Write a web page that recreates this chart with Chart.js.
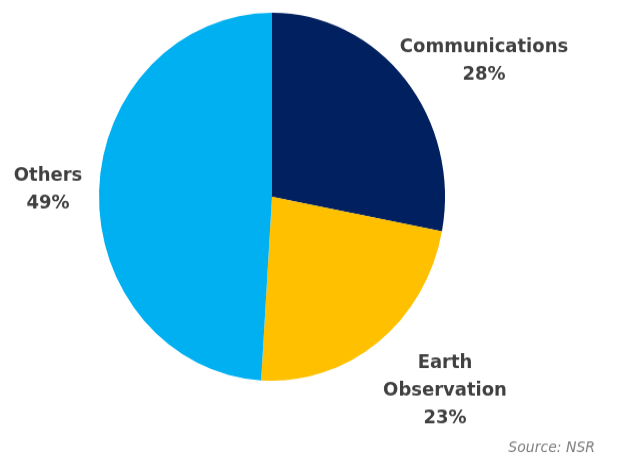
<!DOCTYPE html>
<html>
<head>
<meta charset="utf-8">
<script src="https://cdn.jsdelivr.net/npm/chart.js@4/dist/chart.umd.min.js"></script>
<style>
  html, body { margin: 0; padding: 0; background: #ffffff; }
  #wrap { position: absolute; left: 0; top: 0; width: 619px; height: 428px; transform: scaleY(1.0635); transform-origin: 0 0; }
</style>
</head>
<body>
<div id="wrap"><canvas id="c"></canvas></div>
<script>
const categories = ["Communications", "Earth Observation", "Others"];
const shares = [28, 23, 49];
const sliceColors = ["#002060", "#FFC000", "#00B0F0"];
const labelLines = [["Communications", "28%"], ["Earth", "Observation", "23%"], ["Others", "49%"]];
const sourceText = "Source: NSR";

// label anchor (x, first-line y) per slice, in canvas pixels
const labelAnchors = [[484, 44], [445, 341], [48, 165]];
const lineGap = 26;

const labelPlugin = {
  id: 'sliceLabels',
  afterDraw(chart) {
    const ctx = chart.ctx;
    ctx.save();
    ctx.fillStyle = '#404040';
    ctx.font = 'bold 18px "DejaVu Sans"';
    ctx.textAlign = 'center';
    ctx.textBaseline = 'middle';
    labelLines.forEach((lines, i) => {
      const [x, y] = labelAnchors[i];
      lines.forEach((t, j) => ctx.fillText(t, x, y + j * lineGap));
    });
    ctx.fillStyle = '#7f7f7f';
    ctx.font = 'italic 14px "DejaVu Sans"';
    ctx.textAlign = 'right';
    ctx.fillText(sourceText, 595, 421);
    ctx.restore();
  }
};

new Chart(document.getElementById('c'), {
  type: 'pie',
  data: {
    labels: categories,
    datasets: [{
      data: shares,
      backgroundColor: sliceColors,
      borderWidth: 0
    }]
  },
  options: {
    responsive: true,
    maintainAspectRatio: false,
    animation: false,
    layout: { padding: { left: 99, right: 174, top: 12, bottom: 70 } },
    plugins: {
      legend: { display: false },
      tooltip: { enabled: false }
    }
  },
  plugins: [labelPlugin]
});
</script>
</body>
</html>
